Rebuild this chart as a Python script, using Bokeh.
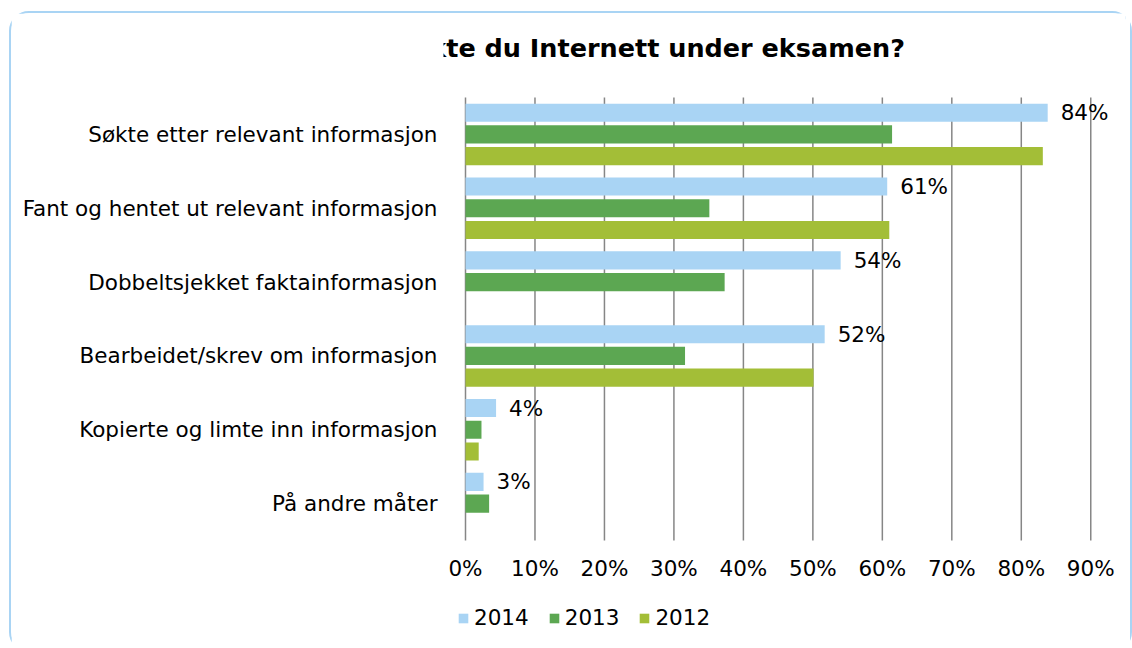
from bokeh.plotting import figure
from bokeh.models import (ColumnDataSource, Range1d, FixedTicker, PrintfTickFormatter,
                          Legend, LegendItem, LabelSet, Label)
from bokeh.core.properties import value
from bokeh.embed import file_html
from bokeh.resources import INLINE

title_text = "Hvordan brukte du Internett under eksamen?"
categories = ["Søkte etter relevant informasjon",
              "Fant og hentet ut relevant informasjon",
              "Dobbeltsjekket faktainformasjon",
              "Bearbeidet/skrev om informasjon",
              "Kopierte og limte inn informasjon",
              "På andre måter"]
years = ["2014", "2013", "2012"]
v2014 = [83.8, 60.7, 54.0, 51.7, 4.4, 2.6]
v2013 = [61.4, 35.1, 37.3, 31.6, 2.3, 3.4]
v2012 = [83.1, 61.0, None, 50.1, 1.9, None]
x_ticks = [0, 10, 20, 30, 40, 50, 60, 70, 80, 90]

colors = {"2014": "#a9d4f4", "2013": "#5ca752", "2012": "#a3be37"}
offsets = {"2014": 0.294, "2013": 0.0, "2012": -0.294}
series = {"2014": v2014, "2013": v2013, "2012": v2012}
FONT = "DejaVu Sans"
FS = "21.5px"
GRID = "#868686"

n = len(categories)
centers = [n - i - 0.5 for i in range(n)]

# frame covers the bar area plus the space around it (title, tick labels, legend)
px_per_x = 6.947
px_per_cat = 443 / n
top_px, bottom_px, left_px = 84, 100, 22
p = figure(frame_width=682, frame_height=443 + top_px + bottom_px,
           output_backend="svg", toolbar_location=None,
           x_range=Range1d(-left_px / px_per_x, 95),
           y_range=Range1d(-bottom_px / px_per_cat, n + top_px / px_per_cat),
           min_border_left=432, min_border_right=5, min_border_top=0,
           min_border_bottom=10)
p.styles = {"border": "2px solid #a9d4f4", "border-radius": "20px",
            "margin-left": "9px", "margin-top": "11px"}
p.outline_line_color = None
p.background_fill_color = "white"
p.border_fill_color = "white"

# chart title, centred over the whole chart box
p.add_layout(Label(x=16.1, y=n + 50 / px_per_cat, text=title_text,
                   text_align="center", text_baseline="middle",
                   text_font=FONT, text_font_size="25.5px",
                   text_font_style="bold", text_color="black"))

# vertical gridlines over the category area
p.segment(x0=x_ticks, y0=[0] * len(x_ticks), x1=x_ticks, y1=[n] * len(x_ticks),
          line_color=GRID, line_width=1.5)

items = []
for y in years:
    xs, ys, labs = [], [], []
    for i, v in enumerate(series[y]):
        if v is None:
            continue
        xs.append(v)
        ys.append(centers[i] + offsets[y])
        labs.append(f"{round(v)}%")
    src = ColumnDataSource(dict(x=xs, y=ys, lab=labs))
    r = p.hbar(y="y", right="x", left=0, height=0.245, source=src,
               fill_color=colors[y], line_color=None)
    items.append(LegendItem(label=y, renderers=[r]))
    if y == "2014":
        ls = LabelSet(x="x", y="y", text="lab", source=src, x_offset=13,
                      text_baseline="middle", text_font_size=FS,
                      text_color="black", text_font=value(FONT))
        p.add_layout(ls)

# axes
p.xaxis.fixed_location = 0
p.xaxis.ticker = FixedTicker(ticks=x_ticks)
p.xaxis.formatter = PrintfTickFormatter(format="%d%%")
p.xaxis.axis_line_color = None
p.xaxis.major_tick_line_color = None
p.xaxis.minor_tick_line_color = None
p.xaxis.major_label_standoff = 9
p.xaxis.major_label_text_font = FONT
p.xaxis.major_label_text_font_size = FS
p.xaxis.major_label_text_color = "black"

p.yaxis.ticker = FixedTicker(ticks=centers)
p.yaxis.major_label_overrides = {c: cat for c, cat in zip(centers, categories)}
p.yaxis.axis_line_color = None
p.yaxis.major_tick_line_color = None
p.yaxis.minor_tick_line_color = None
p.yaxis.major_label_standoff = 0
p.yaxis.major_label_text_font = FONT
p.yaxis.major_label_text_font_size = FS
p.yaxis.major_label_text_color = "black"

p.xgrid.grid_line_color = None
p.ygrid.grid_line_color = None

legend = Legend(items=items, orientation="horizontal", location=(14, 10),
                glyph_width=12, glyph_height=12, label_standoff=5, spacing=19,
                padding=0, margin=0, border_line_color=None,
                background_fill_alpha=0, label_text_font=FONT,
                label_text_font_size=FS, label_text_color="black")
p.add_layout(legend)

open("out.html", "w").write(file_html(p, INLINE))
